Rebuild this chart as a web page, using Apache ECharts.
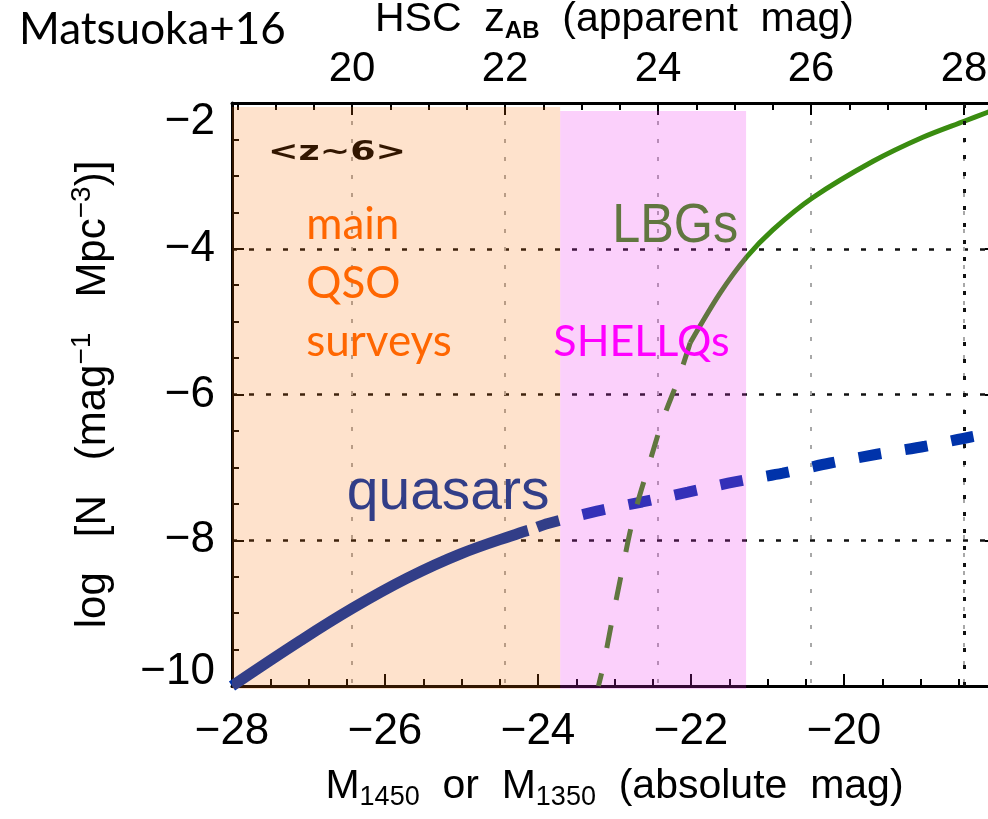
<!DOCTYPE html>
<html>
<head>
<meta charset="utf-8">
<script src="https://cdn.jsdelivr.net/npm/echarts@6/dist/echarts.min.js"></script>
<style>
  html, body { margin: 0; padding: 0; background: #fff; }
  #chart { width: 988px; height: 819px; }
</style>
</head>
<body>
<div id="chart"></div>
<script>
// Number densities at z~6: log N (mag^-1 Mpc^-3) vs absolute magnitude
const absMagRange = [-28, -18];
const logNRange = [-10, -2];
// HSC z_AB apparent magnitude = absolute magnitude + offset
const apparentOffset = 46.43;

// quasar luminosity function, observed (solid) and extrapolated (dashed)
const quasarBright = [
  [-28.00, -10.00], [-27.11, -9.38], [-26.42, -8.93],
  [-25.71, -8.52], [-25.02, -8.19], [-24.24, -7.90], [-24.13, -7.865]
];
const quasarFaint = [
  [-24.01, -7.82], [-23.87, -7.77], [-23.23, -7.60], [-22.64, -7.475],
  [-22.04, -7.34], [-21.43, -7.20], [-20.80, -7.08], [-20.18, -6.94],
  [-19.57, -6.82], [-18.94, -6.71], [-18.33, -6.58], [-18.00, -6.52]
];
// Lyman-break galaxy luminosity function
const lbgFaint = [
  [-22.01, -5.29], [-21.62, -4.61], [-21.27, -4.11], [-20.93, -3.74],
  [-20.41, -3.30], [-19.62, -2.80], [-18.97, -2.47], [-18.43, -2.25],
  [-18.13, -2.13], [-18.00, -2.08]
];
const lbgBright = [
  [-22.01, -5.29], [-22.17, -5.80], [-22.37, -6.35], [-22.56, -7.00],
  [-22.76, -7.72], [-22.90, -8.41], [-23.03, -9.09], [-23.15, -9.74],
  [-23.21, -10.00]
];

// survey magnitude bands: [M_from, M_to, logN_bottom, logN_top]
const surveyBands = [
  [-28.00, -23.71, -10.04, -2.055],
  [-23.71, -21.28, -10.04, -2.11]
];
const surveyBandColors = ['rgba(250,110,0,0.2)', 'rgba(236,40,236,0.22)'];

// apparent magnitude drawn with a darker guide line
const apparentGuide = 28;

// text annotations placed in data coordinates
const annotations = [
  { text: '<z~6>', at: [-27.53, -2.68], size: 27, family: 'DejaVu Sans', weight: 'bold', color: '#000', sx: 1.35, over: false },
  { text: 'quasars', at: [-26.50, -7.36], size: 57, family: 'Liberation Sans', weight: 'normal', color: '#0033aa', sx: 1, over: false },
  { text: 'LBGs', at: [-23.03, -3.70], size: 56, family: 'Liberation Sans', weight: 'normal', color: '#3a8c10', sx: 0.9, over: false },
  { text: 'main', at: [-27.03, -3.674], size: 44, family: 'Lato', weight: 'normal', color: '#ff6600', sx: 1, over: true },
  { text: 'QSO', at: [-27.03, -4.484], size: 44, family: 'Lato', weight: 'normal', color: '#ff6600', sx: 1, over: true },
  { text: 'surveys', at: [-27.03, -5.28], size: 44, family: 'Lato', weight: 'normal', color: '#ff6600', sx: 1, over: true },
  { text: 'SHELLQs', at: [-23.80, -5.28], size: 43, family: 'Lato', weight: 'normal', color: '#ff00ff', sx: 1, over: true }
];

const MINUS = '\u2212';
const fmtSigned = v => (v < 0 ? MINUS + Math.abs(v) : String(v));
const labelFont = 'Liberation Sans';

const axisLineStyle = { color: '#000', width: 3 };
const tickStyle = { color: '#000', width: 2 };

const chart = echarts.init(document.getElementById('chart'));

const option = {
  backgroundColor: '#fff',
  animation: false,
  title: {
    text: 'Matsuoka+16',
    left: 14, top: 3,
    textStyle: { fontFamily: 'Lato', fontSize: 44, fontWeight: 'normal', color: '#000' }
  },
  grid: { left: 232, top: 103, width: 765, height: 583, containLabel: false, outerBoundsMode: 'none' },
  xAxis: [
    {
      type: 'value', position: 'bottom',
      min: absMagRange[0], max: absMagRange[1], interval: 2,
      axisLine: { show: true, onZero: false, lineStyle: axisLineStyle },
      axisTick: { show: true, inside: true, length: 12, lineStyle: tickStyle },
      minorTick: { show: true, splitNumber: 4, length: 7, lineStyle: tickStyle },
      splitLine: { show: false },
      axisLabel: {
        margin: 24, fontSize: 44, fontFamily: labelFont, color: '#000',
        formatter: v => (v >= absMagRange[1] ? '' : fmtSigned(v))
      },
      name: 'M{sub|1450}  or  M{sub|1350}  (absolute  mag)',
      nameLocation: 'middle', nameGap: 76,
      nameTextStyle: {
        fontFamily: labelFont, fontSize: 41, color: '#000',
        rich: { sub: { fontFamily: labelFont, fontSize: 27, color: '#000', padding: [22, 0, 0, 0] } }
      }
    },
    {
      type: 'value', position: 'top',
      min: absMagRange[0] + apparentOffset, max: absMagRange[1] + apparentOffset,
      splitNumber: 5, minInterval: 2, maxInterval: 2,
      axisLine: { show: true, onZero: false, lineStyle: axisLineStyle },
      axisTick: { show: true, inside: true, length: 12, lineStyle: tickStyle },
      minorTick: { show: true, splitNumber: 4, length: 7, lineStyle: tickStyle },
      splitLine: { show: true, lineStyle: { color: '#a8a8a8', width: 2, type: [4, 14] } },
      axisLabel: {
        margin: 13, fontSize: 42, fontFamily: labelFont, color: '#000',
        showMinLabel: false, showMaxLabel: false,
        formatter: v => (Math.abs(v - Math.round(v)) < 1e-6 ? String(Math.round(v)) : '')
      },
      name: 'HSC  z{sub|AB}  (apparent  mag)',
      nameLocation: 'middle', nameGap: 45,
      nameTextStyle: {
        fontFamily: labelFont, fontSize: 41, color: '#000',
        rich: { sub: { fontFamily: labelFont, fontSize: 24, fontWeight: 'bold', color: '#000', padding: [22, 0, 0, 0] } }
      }
    }
  ],
  yAxis: [
    {
      type: 'value', position: 'left',
      min: logNRange[0], max: logNRange[1], interval: 2,
      axisLine: { show: true, onZero: false, lineStyle: axisLineStyle },
      axisTick: { show: true, inside: true, length: 12, lineStyle: tickStyle },
      minorTick: { show: true, splitNumber: 4, length: 7, lineStyle: tickStyle },
      splitLine: { show: true, lineStyle: { color: '#111', width: 2.5, type: [5, 12] } },
      axisLabel: {
        margin: 17, fontSize: 44, fontFamily: labelFont, color: '#000',
        formatter: v => {
          if (v === logNRange[1]) return '{hi|' + fmtSigned(v) + '}';
          if (v === logNRange[0]) return '{lo|' + fmtSigned(v) + '}';
          return fmtSigned(v);
        },
        rich: {
          hi: { fontSize: 44, fontFamily: labelFont, color: '#000', padding: [38, 0, 0, 0] },
          lo: { fontSize: 44, fontFamily: labelFont, color: '#000', padding: [0, 0, 28, 0] }
        }
      },
      name: 'log   [N   (mag{sup|\u22121}   Mpc{sup|\u22123})]',
      nameLocation: 'middle', nameGap: 114,
      nameTextStyle: {
        fontFamily: labelFont, fontSize: 42, color: '#000',
        rich: { sup: { fontFamily: labelFont, fontSize: 28, color: '#000', padding: [0, 0, 22, 0] } }
      }
    },
    {
      type: 'value', position: 'right',
      min: logNRange[0], max: logNRange[1], interval: 2,
      axisLine: { show: true, onZero: false, lineStyle: axisLineStyle },
      axisTick: { show: true, inside: true, length: 12, lineStyle: tickStyle },
      minorTick: { show: true, splitNumber: 4, length: 7, lineStyle: tickStyle },
      splitLine: { show: false },
      axisLabel: { show: false }
    }
  ],
  series: [
    {
      name: 'quasars (observed)', type: 'line', xAxisIndex: 0, yAxisIndex: 0,
      data: quasarBright, showSymbol: false, smooth: 0.4, z: 2,
      lineStyle: { color: '#0033aa', width: 11, cap: 'butt' }
    },
    {
      name: 'quasars (extrapolated)', type: 'line', xAxisIndex: 0, yAxisIndex: 0,
      data: quasarFaint, showSymbol: false, smooth: 0.3, z: 2,
      lineStyle: { color: '#0033aa', width: 11, type: [23, 24], cap: 'butt' }
    },
    {
      name: 'LBGs', type: 'line', xAxisIndex: 0, yAxisIndex: 0,
      data: lbgFaint, showSymbol: false, smooth: 0.3, z: 2,
      lineStyle: { color: '#3a8c10', width: 5 }
    },
    {
      name: 'LBGs (bright end)', type: 'line', xAxisIndex: 0, yAxisIndex: 0,
      data: lbgBright, showSymbol: false, smooth: 0.3, z: 2,
      lineStyle: { color: '#3a8c10', width: 5, type: [23, 26], cap: 'butt' }
    },
    {
      name: 'guide', type: 'line', xAxisIndex: 1, yAxisIndex: 0, data: [], z: 1,
      markLine: {
        silent: true, symbol: 'none', label: { show: false },
        lineStyle: { color: '#111', width: 3, type: [4, 13] },
        data: [{ xAxis: apparentGuide }]
      }
    },
    {
      name: 'survey bands', type: 'custom', xAxisIndex: 0, yAxisIndex: 0,
      silent: true, z: 3, clip: false,
      data: surveyBands.map((b, i) => [b[0], b[1], b[2], b[3], i]),
      encode: { x: [0, 1], y: [2, 3] },
      renderItem: (params, api) => {
        const p0 = api.coord([api.value(0), api.value(3)]);
        const p1 = api.coord([api.value(1), api.value(2)]);
        return {
          type: 'rect',
          shape: { x: p0[0], y: p0[1], width: p1[0] - p0[0], height: p1[1] - p0[1] },
          style: { fill: surveyBandColors[api.value(4)] }
        };
      }
    }
  ]
};

chart.setOption(option);

// place annotation texts through the grid's coordinate conversion
const graphicTexts = annotations.map(a => {
  const p = chart.convertToPixel({ gridIndex: 0 }, a.at);
  return {
    type: 'text', x: p[0], y: p[1], scaleX: a.sx, z: a.over ? 10 : 1, silent: true,
    style: {
      text: a.text, fill: a.color, fontSize: a.size, fontFamily: a.family,
      fontWeight: a.weight, align: 'left', verticalAlign: 'middle'
    }
  };
});
chart.setOption({ graphic: graphicTexts });
</script>
</body>
</html>
